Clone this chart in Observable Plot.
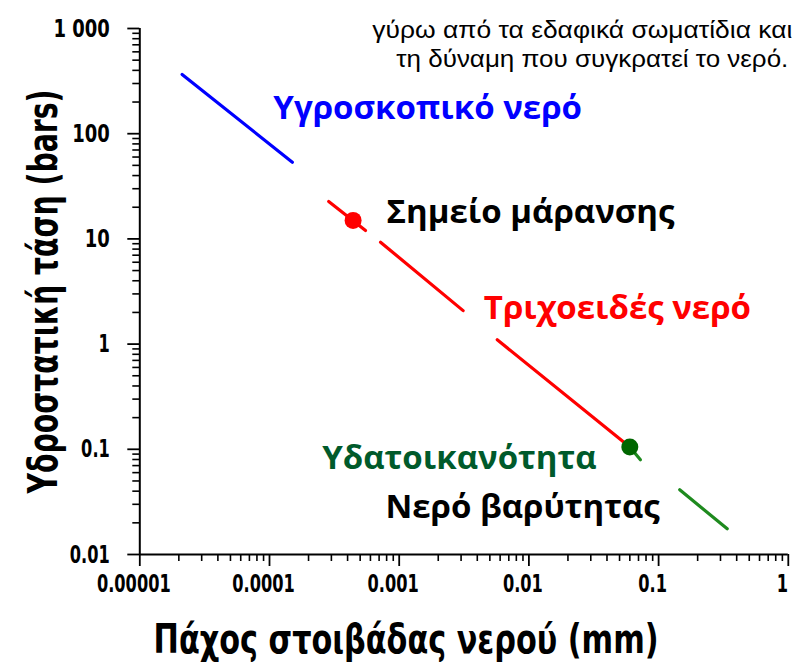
<!DOCTYPE html>
<html>
<head>
<meta charset="utf-8">
<script src="https://cdn.jsdelivr.net/npm/d3@7"></script>
<script src="https://cdn.jsdelivr.net/npm/@observablehq/plot@0.6"></script>
<style>
  html, body { margin: 0; padding: 0; background: #fff; }
  #chart { width: 797px; height: 670px; }
</style>
</head>
<body>
<div id="chart"></div>
<script>
// ---- Data ----
const xTickValues = [1e-5, 1e-4, 1e-3, 1e-2, 1e-1, 1];
const xTickLabels = ["0.00001", "0.0001", "0.001", "0.01", "0.1", "1"];
const yTickValues = [0.01, 0.1, 1, 10, 100, 1000];
const yTickLabels = ["0.01", "0.1", "1", "10", "100", "1 000"];

// line segments (pairs of points) – the drawn water-film line, broken where labels sit
const segmentId = ["hygro", "hygro", "cap1", "cap1", "cap2", "cap2", "cap3", "cap3", "grav1", "grav1", "grav2", "grav2"];
const segmentX  = [2.12e-5, 1.50e-4, 2.86e-4, 5.50e-4, 7.18e-4, 3.11e-3, 5.70e-3, 0.060, 0.060, 0.0724, 0.1455, 0.338];
const segmentY  = [365, 53.6, 22.7, 12.0, 9.3, 2.08, 1.10, 0.105, 0.105, 0.0794, 0.0412, 0.01755];

// marked points
const pointName = ["Σημείο μάρανσης", "Υδατοικανότητα"];
const pointX = [4.41e-4, 0.060];
const pointY = [15, 0.105];

// annotation labels (left edge x, vertical centre y, in data units)
const labelText = ["Υγροσκοπικό νερό", "Σημείο μάρανσης", "Τριχοειδές νερό", "Υδατοικανότητα", "Νερό βαρύτητας"];
const labelX = [1.07e-4, 7.98e-4, 4.49e-3, 2.55e-4, 7.83e-4];
const labelY = [174, 17.8, 2.20, 0.0826, 0.0283];

const captionLines = ["γύρω από τα εδαφικά σωματίδια και", "τη δύναμη που συγκρατεί το νερό."];
const xTitle = "Πάχος στοιβάδας νερού (mm)";
const yTitle = "Υδροστατική τάση (bars)";

// ---- build tables ----
const segments = segmentId.map((id, i) => ({id, x: segmentX[i], y: segmentY[i]}));
const points = pointName.map((n, i) => ({name: n, x: pointX[i], y: pointY[i]}));
const labels = labelText.map((t, i) => ({text: t, x: labelX[i], y: labelY[i]}));

const segColor = id => id.startsWith("hygro") ? "#0000ff" : id.startsWith("cap") ? "#ff0000" : "#1e8a1e";
const pointColor = {"Σημείο μάρανσης": "#ff0000", "Υδατοικανότητα": "#006600"};
const labelColor = {
  "Υγροσκοπικό νερό": "#0000ff",
  "Σημείο μάρανσης": "#000000",
  "Τριχοειδές νερό": "#ff0000",
  "Υδατοικανότητα": "#005a2b",
  "Νερό βαρύτητας": "#000000"
};

const xLabelMap = new Map(xTickValues.map((v, i) => [v, xTickLabels[i]]));
const yLabelMap = new Map(yTickValues.map((v, i) => [v, yTickLabels[i]]));
const isMajor = (v, majors) => majors.some(t => Math.abs(Math.log10(t) - Math.log10(v)) < 1e-9);
const xMinor = d3.scaleLog().domain([1e-5, 1]).ticks().filter(v => !isMajor(v, xTickValues));
const yMinor = d3.scaleLog().domain([0.01, 1000]).ticks().filter(v => !isMajor(v, yTickValues));

const narrow = "'Liberation Sans Narrow', 'Arial Narrow', 'DejaVu Sans Condensed', sans-serif";
const humanist = "'Open Sans', 'DejaVu Sans', sans-serif";
const plain = "'Liberation Sans', Arial, sans-serif";

const chart = Plot.plot({
  width: 797,
  height: 670,
  marginLeft: 139.3,
  marginRight: 9.2,
  marginTop: 28,
  marginBottom: 116,
  style: {background: "#fff", color: "#000", fontFamily: narrow},
  x: {type: "log", domain: [1e-5, 1], axis: null},
  y: {type: "log", domain: [0.01, 1000], axis: null},
  marks: [
    // minor ticks
    Plot.axisX(xMinor, {tickSize: 7, tickFormat: () => "", label: null, strokeWidth: 1.6, stroke: "#000"}),
    Plot.axisY(yMinor, {tickSize: 7, tickFormat: () => "", label: null, strokeWidth: 1.6, stroke: "#000"}),
    // major ticks
    Plot.axisX(xTickValues, {tickSize: 12, tickFormat: () => "", label: null, strokeWidth: 1.8, stroke: "#000"}),
    Plot.axisY(yTickValues, {tickSize: 12, tickFormat: () => "", label: null, strokeWidth: 1.8, stroke: "#000"}),
    // tick labels
    Plot.axisX(xTickValues, {
      tickSize: 0, tickPadding: 20, dx: -6, fill: "#000", label: null,
      tickFormat: d => xLabelMap.get(d), fontSize: 25, fontWeight: "bold", fontFamily: narrow
    }),
    Plot.axisY(yTickValues, {
      tickSize: 0, tickPadding: 30, fill: "#000", label: null,
      tickFormat: d => yLabelMap.get(d), fontSize: 25, fontWeight: "bold", fontFamily: narrow
    }),
    // axis lines
    Plot.ruleX([1e-5], {stroke: "#000", strokeWidth: 2}),
    Plot.ruleY([0.01], {stroke: "#000", strokeWidth: 2}),
    // the line
    Plot.line(segments, {x: "x", y: "y", z: "id", stroke: d => segColor(d.id), strokeWidth: 3.2}),
    Plot.dot(points, {x: "x", y: "y", r: 8.5, fill: d => pointColor[d.name], stroke: "none"}),
    // annotations
    Plot.text(labels, {
      x: "x", y: "y", text: "text", textAnchor: "start", fill: d => labelColor[d.text],
      fontSize: 33, fontWeight: "bold", fontFamily: humanist
    }),
    // caption at the top right (two lines)
    Plot.text([captionLines[0]], {
      frameAnchor: "top-right", textAnchor: "end", dx: 4, dy: -7.7,
      fontSize: 24, fill: "#000", fontFamily: plain
    }),
    Plot.text([captionLines[1]], {
      frameAnchor: "top-right", textAnchor: "end", dx: 0, dy: 21.3,
      fontSize: 24, fill: "#000", fontFamily: plain
    }),
    // axis titles
    Plot.text([yTitle], {
      frameAnchor: "left", textAnchor: "middle", rotate: -90, dx: -96, dy: 0, fontSize: 40, fontWeight: "bold",
      fill: "#000", fontFamily: narrow
    }),
    Plot.text([xTitle], {
      frameAnchor: "bottom", textAnchor: "middle", dx: -58, dy: 98, fontSize: 40, fontWeight: "bold",
      fill: "#000", fontFamily: narrow
    })
  ]
});

document.getElementById("chart").appendChild(chart);

// Condense texts horizontally to mimic the narrow typeface of the reference
const targetWidth = new Map([
  [yTitle, 404],
  [xTitle, 505],
  [captionLines[0], 420],
  [captionLines[1], 392]
]);
const xTickSet = new Set(xTickLabels);
const yTickSet = new Set(yTickLabels);
d3.select(chart).selectAll("text").each(function () {
  if (this.querySelector("tspan")) return;
  const t = this.textContent;
  if (!t) return;
  const w = this.getComputedTextLength();
  let target = null;
  if (targetWidth.has(t)) target = targetWidth.get(t);
  else if (this.getAttribute("text-anchor") === "end" && yTickSet.has(t)) target = w * 0.8;
  else if (xTickSet.has(t)) target = w * 0.72;
  else if (yTickSet.has(t)) target = w * 0.8;
  if (target) {
    this.setAttribute("textLength", target);
    this.setAttribute("lengthAdjust", "spacingAndGlyphs");
  }
});
</script>
</body>
</html>
